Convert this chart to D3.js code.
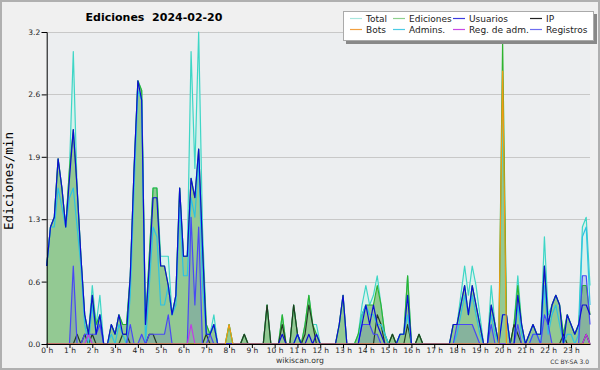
<!DOCTYPE html>
<html>
<head>
<meta charset="utf-8">
<script src="https://cdn.jsdelivr.net/npm/d3@7"></script>
<style>
  body { margin: 0; background: #fff; }
  text { font-family: "DejaVu Sans", sans-serif; }
</style>
</head>
<body>
<div id="chart"></div>
<script>
// edits per minute, one value per 10-minute slot (24 rows of 6)
const total = [
  0.8, 1.2, 1.3, 1.9, 1.6, 1.2,
  1.8, 3.0, 1.6, 0.9, 0.3, 0.1,
  0.6, 0.2, 0.5, 0, 0, 0.2,
  0.1, 0.3, 0.2, 0.2, 0.7, 1.8,
  2.7, 2.6, 0.2, 0.9, 1.6, 1.6,
  0.9, 0.9, 0.9, 0.3, 0.5, 1.6,
  0.9, 0.9, 3.0, 1.8, 3.2, 1.2,
  0.2, 0.1, 0.3, 0, 0, 0,
  0.2, 0, 0, 0, 0.1, 0,
  0, 0, 0, 0, 0.4, 0,
  0, 0, 0.3, 0, 0, 0.4,
  0.1, 0, 0.2, 0.5, 0.2, 0.2,
  0, 0, 0, 0, 0, 0.2,
  0.5, 0, 0, 0, 0.1, 0.4,
  0.6, 0.4, 0.5, 0.7, 0.4, 0.1,
  0, 0.1, 0, 0.1, 0.1, 0.7,
  0, 0, 0.1, 0, 0, 0,
  0, 0, 0, 0, 0, 0.2,
  0.2, 0.5, 0.8, 0.5, 0.8, 0.6,
  0.3, 0, 0, 0.6, 0.2, 0,
  2.3, 0.3, 0, 0.2, 0.7, 0.2,
  0, 0.1, 0.2, 0.1, 0.1, 1.1,
  0.3, 0.4, 0.5, 0.4, 0.1, 0.3,
  0.2, 0.1, 0.2, 1.2, 1.3, 0.6
]
const ediciones = [
  0.8, 1.2, 1.3, 1.9, 1.6, 1.2,
  1.8, 2.2, 1.6, 0.9, 0.3, 0.1,
  0.5, 0.2, 0.3, 0, 0, 0.2,
  0.1, 0.3, 0.2, 0.2, 0.7, 1.8,
  2.7, 2.6, 0.2, 0.9, 1.6, 1.6,
  0.8, 0.8, 0.6, 0.3, 0.5, 1.6,
  0.9, 0.9, 1.7, 1.5, 2.0, 1.0,
  0.2, 0.1, 0.2, 0, 0, 0,
  0.2, 0, 0, 0, 0.1, 0,
  0, 0, 0, 0, 0.4, 0,
  0, 0, 0.3, 0, 0, 0.4,
  0.1, 0, 0.2, 0.5, 0.2, 0.1,
  0, 0, 0, 0, 0, 0.2,
  0.5, 0, 0, 0, 0.1, 0.3,
  0.4, 0.4, 0.4, 0.6, 0.4, 0.1,
  0, 0.1, 0, 0.1, 0.1, 0.7,
  0, 0, 0.1, 0, 0, 0,
  0, 0, 0, 0, 0, 0.2,
  0.2, 0.4, 0.6, 0.3, 0.6, 0.4,
  0.2, 0, 0, 0.4, 0.2, 0,
  3.1, 0.3, 0, 0.2, 0.6, 0.2,
  0, 0.1, 0.2, 0.1, 0.1, 0.8,
  0.2, 0.4, 0.5, 0.4, 0.1, 0.3,
  0.2, 0.1, 0.2, 0.6, 0.6, 0.3
]
const usuarios = [
  0.8, 1.2, 1.3, 1.9, 1.6, 1.2,
  1.7, 2.2, 1.6, 0.9, 0.3, 0.1,
  0.5, 0.1, 0.3, 0, 0, 0.2,
  0.1, 0.3, 0.1, 0.1, 0.7, 1.8,
  2.7, 2.5, 0.2, 0.8, 1.5, 1.5,
  0.8, 0.8, 0.6, 0.3, 0.5, 1.6,
  0.9, 0.9, 1.7, 1.5, 2.0, 1.0,
  0.1, 0.1, 0.2, 0, 0, 0,
  0, 0, 0, 0, 0, 0,
  0, 0, 0, 0, 0, 0,
  0, 0, 0.1, 0, 0, 0,
  0.1, 0, 0, 0.1, 0, 0.1,
  0, 0, 0, 0, 0, 0.2,
  0.5, 0, 0, 0, 0, 0.2,
  0.4, 0.2, 0.4, 0.2, 0.1, 0,
  0, 0, 0, 0.1, 0.1, 0.5,
  0, 0, 0, 0, 0, 0,
  0, 0, 0, 0, 0, 0.2,
  0.2, 0.4, 0.6, 0.3, 0.6, 0.4,
  0.2, 0, 0, 0.4, 0.2, 0,
  0.3, 0.3, 0, 0, 0.5, 0.2,
  0, 0.1, 0.2, 0.1, 0.1, 0.8,
  0.2, 0.4, 0.5, 0.4, 0, 0.3,
  0.2, 0.1, 0.2, 0.4, 0.4, 0.3
]
const ip = [
  0, 0, 0, 0, 0, 0,
  0, 0, 0.1, 0, 0.1, 0,
  0.1, 0, 0, 0, 0, 0,
  0, 0, 0.1, 0.1, 0, 0,
  0, 0, 0, 0.1, 0.1, 0,
  0, 0, 0, 0, 0, 0,
  0, 0, 0, 0, 0, 0,
  0.1, 0, 0, 0, 0, 0,
  0, 0, 0, 0, 0.1, 0,
  0, 0, 0, 0, 0.4, 0,
  0, 0, 0.2, 0, 0, 0.4,
  0.1, 0, 0.1, 0.4, 0.2, 0,
  0, 0, 0, 0, 0, 0,
  0, 0, 0, 0, 0, 0,
  0, 0, 0, 0.3, 0.2, 0,
  0, 0.1, 0, 0, 0, 0.2,
  0, 0, 0.1, 0, 0, 0,
  0, 0, 0, 0, 0, 0,
  0, 0, 0, 0, 0, 0,
  0, 0, 0, 0, 0, 0,
  0, 0, 0, 0.2, 0.1, 0,
  0, 0, 0, 0, 0, 0,
  0, 0, 0, 0, 0.1, 0,
  0, 0, 0, 0, 0.1, 0
]
const bots = [
  0, 0, 0, 0, 0, 0,  0, 0, 0, 0, 0, 0,  0, 0, 0, 0, 0, 0,  0, 0, 0, 0, 0, 0,
  0, 0, 0, 0, 0, 0,  0, 0, 0, 0, 0, 0,  0, 0, 0, 0, 0, 0,  0, 0, 0, 0, 0, 0,
  0.2, 0, 0, 0, 0, 0,  0, 0, 0, 0, 0, 0,  0, 0, 0, 0, 0, 0,  0, 0, 0, 0, 0, 0,
  0, 0, 0, 0, 0, 0,  0, 0, 0, 0, 0, 0,  0, 0, 0, 0, 0, 0,  0, 0, 0, 0, 0, 0,
  0, 0, 0, 0, 0, 0,  0, 0, 0, 0, 0, 0,  0, 0, 0, 0, 0, 0,  0, 0, 0, 0, 0, 0,
  2.8, 0, 0, 0, 0, 0,  0, 0, 0, 0, 0, 0,  0, 0, 0, 0, 0, 0,  0, 0, 0, 0, 0, 0
]
const admins = [
  0.8, 1.2, 1.2, 1.6, 1.4, 1.2,
  1.5, 1.6, 1.2, 0.8, 0.2, 0,
  0.4, 0.1, 0.3, 0, 0, 0.1,
  0, 0.2, 0.1, 0, 0.5, 1.6,
  2.6, 2.5, 0, 0.6, 1.2, 1.1,
  0.4, 0.4, 0.6, 0.3, 0.4, 1.4,
  0.7, 0.7, 1.5, 1.3, 1.9, 0.6,
  0.1, 0.1, 0.2, 0, 0, 0,
  0, 0, 0, 0, 0, 0,
  0, 0, 0, 0, 0, 0,
  0, 0, 0, 0, 0, 0,
  0.1, 0, 0, 0, 0, 0,
  0, 0, 0, 0, 0, 0,
  0, 0, 0, 0, 0, 0.3,
  0.4, 0.3, 0.3, 0.2, 0.2, 0.1,
  0, 0, 0, 0.1, 0.1, 0.3,
  0, 0, 0, 0, 0, 0,
  0, 0, 0, 0, 0, 0,
  0.1, 0.3, 0.5, 0.3, 0.5, 0.3,
  0.1, 0, 0, 0.3, 0.1, 0,
  0.3, 0.3, 0, 0, 0.4, 0.1,
  0, 0, 0.1, 0.1, 0, 0.6,
  0.1, 0.3, 0.4, 0.2, 0, 0.1,
  0.1, 0, 0.1, 1.1, 1.2, 0.4
]
const regAdm = [
  0, 0, 0, 0, 0, 0,  0, 0, 0, 0, 0, 0.1,  0, 0, 0, 0, 0, 0,  0, 0, 0, 0, 0, 0,
  0, 0, 0, 0, 0, 0,  0, 0, 0, 0, 0, 0,  0, 0, 0.2, 0, 0, 0,  0, 0, 0, 0, 0, 0,
  0, 0, 0, 0, 0, 0,  0, 0, 0, 0, 0, 0,  0, 0, 0, 0, 0, 0,  0, 0, 0, 0, 0, 0,
  0, 0, 0, 0, 0, 0,  0, 0, 0, 0, 0, 0,  0, 0, 0, 0, 0, 0,  0, 0, 0, 0, 0, 0,
  0, 0, 0, 0, 0, 0,  0, 0, 0, 0, 0, 0,  0, 0, 0, 0, 0, 0,  0, 0, 0, 0, 0, 0,
  0, 0, 0, 0, 0, 0,  0, 0, 0, 0, 0, 0,  0, 0, 0, 0, 0, 0,  0, 0, 0, 0, 0.1, 0
]
const registros = [
  0, 0, 0, 0, 0, 0,
  0, 0.8, 0, 0, 0.1, 0.1,
  0.1, 0.1, 0.2, 0, 0, 0,
  0, 0, 0, 0, 0.2, 0,
  0, 0.1, 0, 0.1, 0.1, 0.1,
  0.1, 0.1, 0.3, 0, 0, 0,
  0, 0, 1.3, 0.4, 1.2, 0,
  0, 0.1, 0, 0, 0, 0,
  0, 0, 0, 0, 0, 0,
  0, 0, 0, 0, 0, 0,
  0, 0, 0, 0, 0, 0,
  0, 0, 0, 0, 0, 0,
  0, 0, 0, 0, 0, 0,
  0, 0, 0, 0, 0, 0.2,
  0.2, 0.2, 0.1, 0.1, 0, 0,
  0, 0, 0, 0, 0, 0,
  0, 0, 0, 0, 0, 0,
  0, 0, 0, 0, 0, 0,
  0.2, 0.2, 0.2, 0.2, 0.2, 0.1,
  0, 0, 0, 0.2, 0, 0,
  0, 0, 0, 0, 0.2, 0,
  0, 0, 0.1, 0.1, 0, 0.3,
  0.2, 0, 0, 0, 0, 0,
  0, 0, 0, 0.7, 0.7, 0.2
]

const yTicks = [0, 0.64, 1.28, 1.92, 2.56, 3.2]
const hours = d3.range(24)

const legendItems = [
  { name: 'Total', color: '#a8e6de' },
  { name: 'Ediciones', color: '#8ed08e' },
  { name: 'Usuarios', color: '#3c3ce0' },
  { name: 'IP', color: '#222222' },
  { name: 'Bots', color: '#f2a040' },
  { name: 'Admins.', color: '#4ccbe4' },
  { name: 'Reg. de adm.', color: '#c848e4' },
  { name: 'Registros', color: '#6e6ef0' }
]

const width = 600
const height = 370
const margin = { top: 32, right: 10, bottom: 26, left: 46.7 }

const svg = d3.select('#chart')
  .append('svg')
  .attr('width', width)
  .attr('height', height)

svg.append('rect')
  .attr('x', 1).attr('y', 1)
  .attr('width', width - 2).attr('height', height - 2)
  .attr('fill', '#f0f0f0')
  .attr('stroke', '#b0b0b0')
  .attr('stroke-width', 2)

const x = d3.scaleLinear()
  .domain([0, 1430])
  .range([margin.left, width - margin.right])

const y = d3.scaleLinear()
  .domain([0, 3.2])
  .range([height - margin.bottom, margin.top])

svg.append('rect')
  .attr('x', margin.left).attr('y', margin.top)
  .attr('width', x.range()[1] - margin.left)
  .attr('height', y(0) - margin.top)
  .attr('fill', '#eceef0')

// grid
svg.append('g')
  .selectAll('line')
  .data(yTicks)
  .join('line')
  .attr('x1', margin.left)
  .attr('x2', x.range()[1])
  .attr('y1', d => Math.round(y(d)) + 0.5)
  .attr('y2', d => Math.round(y(d)) + 0.5)
  .attr('stroke', '#c8c8c8')

const px = (d, i) => x(i * 10)

const area = d3.area().x(px).y0(y(0)).y1(d => y(d))
const line = d3.line().x(px).y(d => y(d))

const plot = svg.append('g')

plot.append('path').datum(total).attr('d', area).attr('fill', '#d8f1ec')
plot.append('path').datum(ediciones).attr('d', area).attr('fill', '#93c993')
plot.append('path').datum(registros).attr('d', area).attr('fill', 'rgba(70, 70, 210, 0.17)')

const lines = [
  { data: total, color: '#3ed6c6' },
  { data: ediciones, color: '#2fb32f' },
  { data: ip, color: '#243a24' },
  { data: admins, color: '#2ec2e2' },
  { data: registros, color: '#4848f6' },
  { data: regAdm, color: '#c43ae6' },
  { data: usuarios, color: '#0c0cd4' },
  { data: bots, color: '#f59a12' }
]

plot.selectAll('path.series')
  .data(lines)
  .join('path')
  .attr('class', 'series')
  .attr('d', d => line(d.data))
  .attr('fill', 'none')
  .attr('stroke', d => d.color)
  .attr('stroke-width', 1.2)
  .attr('stroke-linejoin', 'round')

// axes
const yAxis = svg.append('g')
  .attr('transform', `translate(${margin.left},0)`)
yAxis.call(d3.axisLeft(y).tickValues(d3.range(0, 3.21, 0.16)).tickSize(3).tickFormat(''))
yAxis.call(d3.axisLeft(y).tickValues(yTicks).tickSize(5).tickPadding(1.5).tickFormat(d3.format('.1f')))
yAxis.selectAll('text').attr('font-size', 7.5).attr('fill', '#222')
yAxis.selectAll('.domain').attr('stroke', '#000')

const xAxis = svg.append('g')
  .attr('transform', `translate(0,${y(0)})`)
xAxis.call(d3.axisBottom(x).tickValues(d3.range(0, 1431, 10)).tickSize(3).tickFormat('').tickSizeOuter(0))
xAxis.call(d3.axisBottom(x).tickValues(hours.map(h => h * 60)).tickSize(4).tickPadding(0).tickFormat(d => `${d / 60} h`).tickSizeOuter(0))
xAxis.selectAll('text').attr('font-size', 7.5).attr('fill', '#222')
svg.selectAll('.domain').attr('stroke', '#000')

// texts
svg.append('text')
  .attr('x', 154).attr('y', 21)
  .attr('text-anchor', 'middle')
  .attr('font-size', 11).attr('font-weight', 'bold')
  .style('white-space', 'pre')
  .text('Ediciones  2024-02-20')

svg.append('text')
  .attr('transform', 'translate(13,181) rotate(-90)')
  .attr('text-anchor', 'middle')
  .attr('font-size', 12.5)
  .style('font-family', '"DejaVu Sans Mono", monospace')
  .text('Ediciones/min')

svg.append('text')
  .attr('x', 300).attr('y', 363)
  .attr('text-anchor', 'middle')
  .attr('font-size', 7.7).attr('fill', '#333')
  .text('wikiscan.org')

svg.append('text')
  .attr('x', 589).attr('y', 364)
  .attr('text-anchor', 'end')
  .attr('font-size', 6).attr('fill', '#333')
  .text('CC BY-SA 3.0')

// legend
const legend = svg.append('g')
legend.append('rect')
  .attr('x', 346).attr('y', 14).attr('width', 251).attr('height', 30)
  .attr('fill', '#888')
legend.append('rect')
  .attr('x', 343.5).attr('y', 11.5).attr('width', 250).attr('height', 29)
  .attr('fill', '#fff').attr('stroke', '#aaa')

const colX = [350, 393, 453, 530]
const rowY = [22, 33]

const item = legend.selectAll('g.item')
  .data(legendItems)
  .join('g')
  .attr('class', 'item')
  .attr('transform', (d, i) => `translate(${colX[i % 4]},${rowY[Math.floor(i / 4)]})`)

item.append('line')
  .attr('x1', 0).attr('x2', 12)
  .attr('y1', -3.5).attr('y2', -3.5)
  .attr('stroke', d => d.color)
  .attr('stroke-width', 1.2)

item.append('text')
  .attr('x', 16)
  .attr('font-size', 9)
  .attr('fill', '#222')
  .text(d => d.name)
</script>
</body>
</html>
